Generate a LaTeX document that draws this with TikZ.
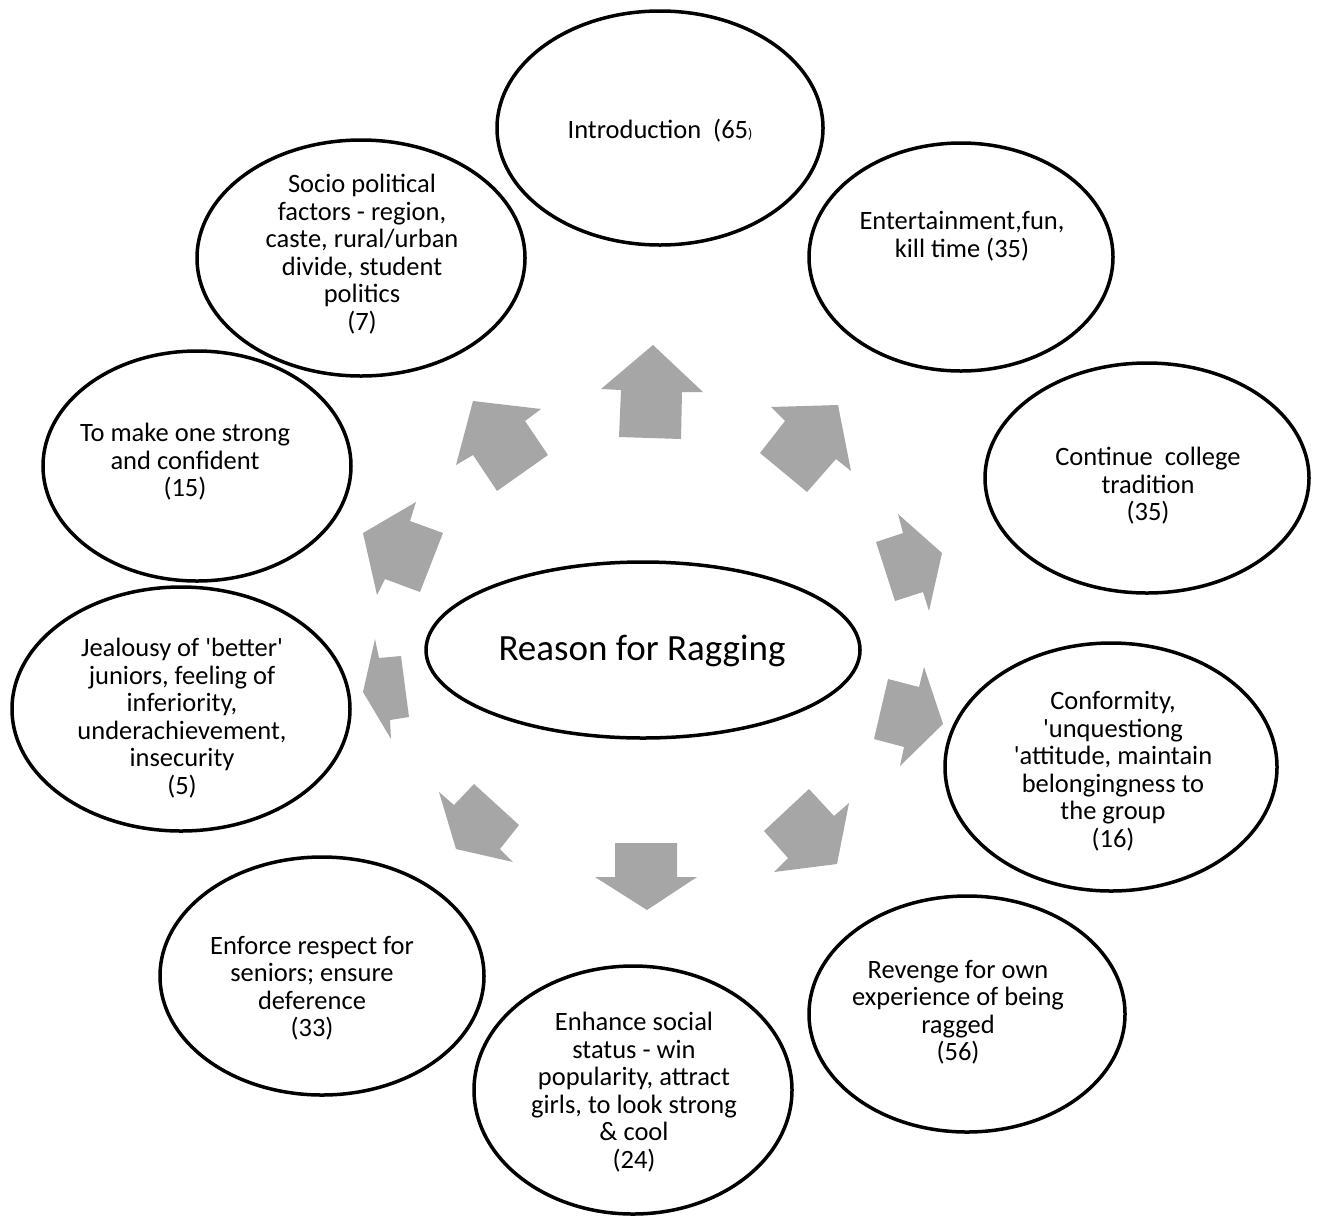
\documentclass[tikz,border=0pt]{standalone}
\usepackage{fontspec}
\setmainfont{Carlito}
\usetikzlibrary{shapes.geometric}
\definecolor{arrowgray}{RGB}{166,166,166}
\newcommand{\sq}{\textquotesingle}
\tikzset{
  reason/.style={ellipse, draw=black, line width=3.5pt, inner sep=0pt},
  words/.style={align=center, inner sep=0pt, font=\fontsize{26.5}{27.5}\selectfont},
  blockarrow/.style={fill=arrowgray, draw=none}
}
\begin{document}
\begin{tikzpicture}[x=1pt,y=-1pt]
    \useasboundingbox (0,0) rectangle (1321,1219);

    % the ellipses
    \node[reason, minimum width=434pt, minimum height=176pt] (centre) at (643,650) {};
    \node[reason, minimum width=326pt, minimum height=234pt] (intro) at (660,128) {};
    \node[reason, minimum width=328pt, minimum height=236pt] (socio) at (361,258) {};
    \node[reason, minimum width=304pt, minimum height=228pt] (fun) at (961,257) {};
    \node[reason, minimum width=324pt, minimum height=230pt] (tradition) at (1147,478) {};
    \node[reason, minimum width=308pt, minimum height=230pt] (strong) at (197,466) {};
    \node[reason, minimum width=338pt, minimum height=244pt] (jealousy) at (181,709) {};
    \node[reason, minimum width=332pt, minimum height=248pt] (conformity) at (1111,767) {};
    \node[reason, minimum width=324pt, minimum height=238pt] (respect) at (322,976) {};
    \node[reason, minimum width=316pt, minimum height=236pt] (revenge) at (967,1014) {};
    \node[reason, minimum width=318pt, minimum height=248pt] (status) at (633,1090) {};

    % the texts
    \node[words, font=\fontsize{37}{44}\selectfont] (centre-t) at (642,651) {Reason for Ragging};
    \node[words] (intro-t) at (660,131) {Introduction\ \ (65{\fontsize{14}{14}\selectfont )}};
    \node[words] (socio-t) at (362,254) {Socio political\\factors - region,\\caste, rural/urban\\divide, student\\politics\\(7)};
    \node[words] (fun-t) at (962,236) {Entertainment,fun,\\kill time (35)};
    \node[words] (tradition-t) at (1148,486) {Continue\ \ college\\tradition\\(35)};
    \node[words] (strong-t) at (185,462) {To make one strong\\and confident\\(15)};
    \node[words] (jealousy-t) at (182,718) {Jealousy of \sq better\sq\\juniors, feeling of\\inferiority,\\underachievement,\\insecurity\\(5)};
    \node[words] (conformity-t) at (1113,771) {Conformity,\\\sq unquestiong\\\sq attitude, maintain\\belongingness to\\the group\\(16)};
    \node[words] (respect-t) at (312,988) {Enforce respect for\\seniors; ensure\\deference\\(33)};
    \node[words] (revenge-t) at (958,1012) {Revenge for own\\experience of being\\ragged\\(56)};
    \node[words] (status-t) at (634,1092) {Enhance social\\status - win\\popularity, attract\\girls, to look strong\\\& cool\\(24)};

    % block arrows, clockwise from the top
    \fill[blockarrow] (653,345) -- (703,392) -- (682,392) -- (681,439) -- (619,437) -- (621,390) -- (601,389) -- cycle;
    \fill[blockarrow] (838,405) -- (851,471) -- (836,459) -- (807,492) -- (760,453) -- (785,421) -- (771,407) -- cycle;
    \fill[blockarrow] (942,553) -- (929,611) -- (923,592) -- (895,601) -- (876,542) -- (903,533) -- (898,514) -- cycle;
    \fill[blockarrow] (943,724) -- (900,766) -- (904,747) -- (874,739) -- (888,679) -- (919,687) -- (924,667) -- cycle;
    \fill[blockarrow] (837,864) -- (774,872) -- (788,858) -- (764,831) -- (809,789) -- (834,816) -- (849,803) -- cycle;
    \fill[blockarrow] (647,910) -- (595,877) -- (615,877) -- (615,843) -- (677,843) -- (677,877) -- (697,877) -- cycle;
    \fill[blockarrow] (456,849) -- (439,792) -- (454,805) -- (474,784) -- (519,825) -- (500,849) -- (513,862) -- cycle;
    \fill[blockarrow] (363,692) -- (375,639) -- (379,658) -- (401,656) -- (409,717) -- (390,720) -- (391,739) -- cycle;
    \fill[blockarrow] (363,533) -- (416,502) -- (410,521) -- (443,533) -- (420,592) -- (385,579) -- (377,595) -- cycle;
    \fill[blockarrow] (473,401) -- (541,409) -- (525,421) -- (548,455) -- (497,491) -- (473,455) -- (456,465) -- cycle;
\end{tikzpicture}
\end{document}
